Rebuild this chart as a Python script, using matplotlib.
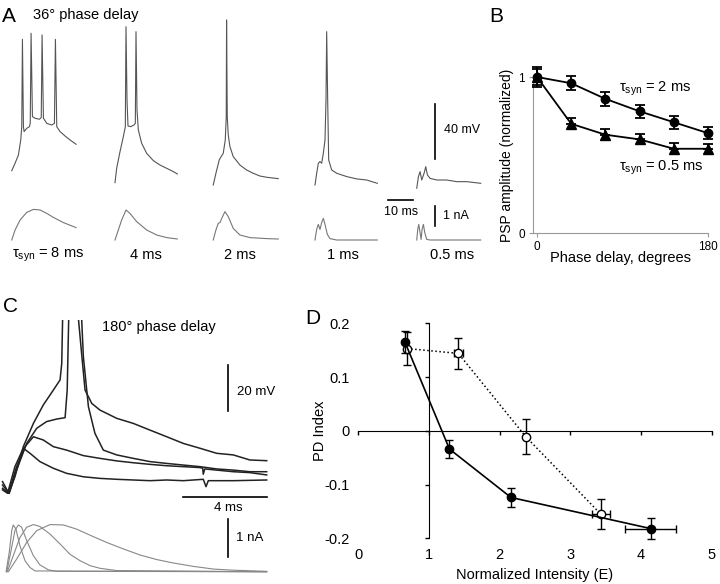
import matplotlib
matplotlib.use("Agg")
import matplotlib.pyplot as plt

plt.rcParams['font.family'] = ['Liberation Sans', 'DejaVu Sans']
plt.rcParams['mathtext.fontset'] = 'custom'
plt.rcParams['mathtext.rm'] = 'Liberation Sans'
plt.rcParams['mathtext.it'] = 'Liberation Sans:italic'

W, H = 720, 584

# ---------------- panel A : 36 deg phase delay, voltage (mV) / current (nA) vs time (ms)
a_labels = ['τ$_{\\rm syn}$ = 8 ms', '4 ms', '2 ms', '1 ms', '0.5 ms']
a_onset = [4.7, 46.0, 85.3, 126.0, 166.7]   # ms, start of each sweep

a_v8_t = [0, 1.33, 2.67, 3.6, 4.0, 4.27, 4.67, 4.93, 6.0, 7.07, 7.4, 7.73, 8.27, 9.33,
          11.07, 11.8, 12.13, 12.67, 14.0, 16.0, 17.07, 17.47, 18.0, 19.33, 21.33, 23.33, 25.73]
a_v8 = [-54.6, -49.2, -43.2, -32.3, -22.6, 40.9, -22.6, -26.2, -23.8, -22.6, -20.0, 45.3, -15.3, -16.5,
        -17.2, -16.0, 44.1, -16.5, -20.2, -21.4, -20.2, 40.9, -22.6, -26.2, -29.4, -32.3, -35.4]
a_v4_t = [0, 0.67, 2.0, 3.33, 4.13, 4.4, 4.8, 5.2, 6.27, 7.6, 8.13, 8.4, 8.8, 9.33, 10.67,
          12.67, 15.33, 18.0, 20.67, 23.33, 24.93]
a_v4 = [-63.3, -52.9, -40.8, -29.9, -22.6, 50.1, -3.2, -22.1, -22.6, -21.4, -20.2, 46.5, -10.5, -25.0, -34.7,
        -42.0, -47.3, -50.5, -52.9, -55.3, -57.0]
a_v2_t = [0, 1.07, 2.4, 3.33, 4.0, 4.8, 5.2, 5.33, 5.6, 6.0, 6.67, 8.0, 10.67, 13.33, 16.0, 18.67, 21.33, 26.0]
a_v2 = [-65.0, -56.5, -46.8, -43.9, -42.0, -32.3, -15.3, 55.0, -15.3, -28.6, -37.1, -44.4, -50.5, -54.1,
        -56.5, -58.5, -59.4, -60.4]
a_v1_t = [0, 0.67, 1.33, 2.0, 2.67, 3.33, 4.0, 4.4, 4.67, 5.07, 5.47, 6.67, 8.67, 12.67, 16.67, 20.67, 24.93]
a_v1 = [-65.0, -56.5, -49.2, -48.0, -49.2, -42.0, -32.3, -3.2, 46.5, -3.2, -46.8, -54.1, -56.5, -58.9,
        -60.6, -61.4, -63.8]
a_v05_t = [0, 0.67, 1.33, 2.0, 2.93, 3.6, 4.27, 5.33, 8.0, 12.0, 16.0, 20.0, 25.6]
a_v05 = [-67.4, -58.9, -55.3, -61.4, -56.5, -51.7, -57.7, -60.2, -61.4, -61.4, -62.6, -62.6, -63.8]

a_i8_t = [0, 1.33, 3.33, 6.0, 8.67, 11.33, 14.0, 16.67, 20.67, 25.73]
a_i8 = [0, 0.5, 1.0, 1.38, 1.53, 1.5, 1.33, 1.13, 0.87, 0.62]
a_i4_t = [0, 1.33, 2.67, 4.4, 6.0, 8.67, 12.67, 16.67, 20.67, 24.93]
a_i4 = [0, 0.5, 1.0, 1.5, 1.33, 0.92, 0.5, 0.25, 0.12, 0.05]
a_i2_t = [0, 1.07, 2.0, 2.67, 3.73, 4.67, 6.0, 8.0, 10.67, 14.67, 21.33, 26.0]
a_i2 = [0, 0.5, 0.83, 0.87, 1.17, 1.42, 1.17, 0.58, 0.25, 0.12, 0.07, 0.05]
a_i1_t = [0, 0.67, 1.33, 2.0, 2.67, 3.33, 4.0, 4.93, 6.0, 8.67, 24.93]
a_i1 = [0, 0.53, 0.78, 0.53, 0.87, 1.08, 0.78, 0.28, 0.07, 0, 0]
a_i05_t = [0, 0.4, 0.8, 1.33, 1.73, 2.13, 2.67, 3.2, 4.0, 5.33, 25.6]
a_i05 = [0, 0.53, 0.78, 0.37, 0.03, 0.53, 0.78, 0.37, 0.03, 0, 0]

# ---------------- panel B : PSP amplitude vs phase delay
b_phase = [0, 36, 72, 108, 144, 180]
b_amp_2ms = [1.0, 0.96, 0.86, 0.78, 0.71, 0.64]
b_err_2ms = [0.064, 0.045, 0.043, 0.043, 0.043, 0.04]
b_amp_05ms = [1.0, 0.70, 0.63, 0.60, 0.54, 0.54]
b_err_05ms_lo = [0.05, 0, 0, 0, 0, 0]
b_err_05ms_hi = [0.05, 0.04, 0.035, 0.035, 0.035, 0.03]

# ---------------- panel C : 180 deg phase delay
c_v1_t = [0.12, 0.42, 0.71, 1.11, 1.59, 2.06, 2.54, 2.86, 2.94, 2.98, 3.33, 3.74, 3.9, 4.05, 4.37,
          4.76, 5.56, 6.35, 7.14, 7.94, 8.73, 9.52, 10.32, 11.11, 11.9, 12.7]
c_v1 = [-65.7, -70.8, -63.6, -50.5, -40.4, -32.4, -25.9, -21.5, -14.3, 4.6, 40, 4.6, -11.4, -25.9, -31.7,
        -34.6, -38.2, -40.4, -43.3, -46.2, -49.1, -51.2, -53.4, -54.1, -56.3, -56.6]
c_v2_t = [0.12, 0.44, 0.79, 1.27, 1.75, 2.22, 2.7, 3.1, 3.2, 3.27, 3.55, 3.89, 3.97, 4.21, 4.52,
          4.92, 5.56, 6.35, 7.14, 7.94, 8.73, 9.52, 10.32, 11.11, 11.9, 12.7]
c_v2 = [-67.2, -70.8, -60.7, -49.1, -42.5, -39.6, -38.5, -37.9, -25.9, 4.6, 40, 4.6, -11.4, -33.1, -44.7,
        -52.0, -54.1, -55.6, -57.0, -57.8, -58.5, -59.2, -60.2, -60.7, -61.4, -61.4]
c_v3_t = [0.12, 0.4, 0.79, 1.19, 1.59, 2.06, 2.54, 3.17, 3.97, 4.76, 5.56, 6.35, 7.14, 7.94, 8.73,
          9.52, 9.65, 9.68, 9.75, 10.32, 11.11, 11.9, 12.7]
c_v3 = [-68.6, -70.8, -59.2, -50.5, -46.2, -47.6, -50.5, -52.0, -54.4, -55.6, -56.7, -57.5, -58.2, -58.8,
        -59.2, -59.6, -59.9, -62.5, -60.2, -60.7, -61.4, -61.8, -62.8]
c_v4_t = [0.12, 0.36, 0.71, 1.11, 1.43, 1.9, 2.54, 3.17, 3.97, 4.76, 5.56, 6.35, 7.14, 7.94, 8.73,
          9.68, 9.81, 9.92, 11.11, 12.7]
c_v4 = [-69.3, -70.8, -59.2, -51.2, -53.4, -57.0, -59.9, -62.1, -63.6, -64.3, -64.7, -65.0, -65.3, -65.0,
        -65.3, -64.7, -67.9, -65.3, -65.3, -65.0]

c_i05_t = [0.29, 0.44, 0.56, 0.63, 0.76, 0.95, 1.19, 1.43, 1.67, 12.7]
c_i05 = [0, 0.51, 1.08, 1.23, 1.12, 0.68, 0.29, 0.11, 0.02, 0]
c_i1_t = [0.32, 0.51, 0.71, 0.87, 1.03, 1.27, 1.59, 1.9, 2.3, 2.7, 12.7]
c_i1 = [0, 0.51, 1.08, 1.23, 1.17, 0.82, 0.42, 0.18, 0.05, 0.01, 0]
c_i2_t = [0.35, 0.63, 0.95, 1.27, 1.59, 1.9, 2.38, 2.86, 3.33, 3.81, 4.29, 4.76, 5.56, 12.7]
c_i2 = [0, 0.42, 0.9, 1.17, 1.24, 1.19, 0.99, 0.73, 0.46, 0.29, 0.16, 0.09, 0.03, 0]
c_i4_t = [0.4, 0.79, 1.27, 1.75, 2.38, 3.02, 3.65, 4.29, 5.08, 5.87, 6.67, 7.46, 8.25, 9.21, 10.16,
          11.11, 12.7]
c_i4 = [0, 0.33, 0.77, 1.08, 1.24, 1.23, 1.12, 0.96, 0.77, 0.6, 0.44, 0.32, 0.23, 0.14, 0.07, 0.04, 0.01]

# ---------------- panel D : PD index vs normalized intensity
d_x_filled = [0.66, 1.29, 2.16, 4.14]
d_y_filled = [0.165, -0.034, -0.124, -0.182]
d_yerr_filled = [0.02, 0.016, 0.018, 0.02]
d_xerr_filled = [0.0, 0.0, 0.0, 0.36]
d_x_open = [0.69, 1.415, 2.37, 3.43]
d_y_open = [0.153, 0.144, -0.011, -0.155]
d_yerr_open = [0.03, 0.029, 0.033, 0.028]
d_xerr_open = [0.0, 0.065, 0.03, 0.125]


def px_axes(fig, x0, y0, x1, y1):
    return fig.add_axes([x0 / W, 1 - y1 / H, (x1 - x0) / W, (y1 - y0) / H])


def px_text(fig, x, y, s, **kw):
    kw.setdefault('va', 'center')
    return fig.text(x / W, 1 - y / H, s, **kw)


fig = plt.figure(figsize=(W / 100, H / 100), dpi=100)

# ---- A
axv = px_axes(fig, 0, 15, 490, 195)
axi = px_axes(fig, 0, 195, 490, 250)
axv.set_xlim(0, 196); axv.set_ylim(-72.3, 58.6)
axi.set_xlim(0, 196); axi.set_ylim(-0.5, 2.25)
a_volt = [(a_v8_t, a_v8), (a_v4_t, a_v4), (a_v2_t, a_v2), (a_v1_t, a_v1), (a_v05_t, a_v05)]
a_curr = [(a_i8_t, a_i8), (a_i4_t, a_i4), (a_i2_t, a_i2), (a_i1_t, a_i1), (a_i05_t, a_i05)]
for t0, (tv, v), (ti, i) in zip(a_onset, a_volt, a_curr):
    axv.plot([t0 + t for t in tv], v, color='#555555', lw=0.8)
    axi.plot([t0 + t for t in ti], i, color='#777777', lw=0.8)
axv.plot([174, 174], [-46, -6], color='k', lw=1.2)
axi.plot([155.2, 165.2], [2.0, 2.0], color='k', lw=1.2, clip_on=False)
axi.plot([174, 174], [0.7, 1.7], color='k', lw=1.2)
for ax in (axv, axi):
    ax.axis('off')

px_text(fig, 2, 16, 'A', fontsize=15)
px_text(fig, 33, 15, '36° phase delay', fontsize=10.5)
px_text(fig, 444, 130, '40 mV', fontsize=9)
px_text(fig, 401, 212, '10 ms', fontsize=9, ha='center')
px_text(fig, 443, 216, '1 nA', fontsize=9)
for xc, lab in zip([48, 146, 240, 343, 452], a_labels):
    px_text(fig, xc, 255, lab, fontsize=10.5, ha='center')

# ---- B
axb = px_axes(fig, 533, 77, 708, 233)
axb.errorbar(b_phase, b_amp_2ms, yerr=b_err_2ms, color='k', marker='o', ms=6, lw=1.3,
             capsize=3.5, elinewidth=1.3, capthick=1.3, clip_on=False, zorder=3)
axb.errorbar(b_phase, b_amp_05ms, yerr=[b_err_05ms_lo, b_err_05ms_hi], color='k', marker='^', ms=7,
             lw=1.3, capsize=3.5, elinewidth=1.3, capthick=1.3, clip_on=False, zorder=3)
axb.set_xlim(-4.2, 180)
axb.set_ylim(0, 1)
axb.set_xticks([0, 180])
axb.set_yticks([0, 1])
axb.set_yticklabels(['0', '1'])
for s in ('top', 'right'):
    axb.spines[s].set_visible(False)
for s in ('left', 'bottom'):
    axb.spines[s].set_color('#999999')
    axb.spines[s].set_linewidth(0.8)
axb.tick_params(length=3, width=0.8, color='#999999', labelsize=8.5, pad=3)
axb.set_ylabel('PSP amplitude (normalized)', fontsize=10)
axb.yaxis.set_label_coords(-0.11, 0.5)
axb.set_xlabel('Phase delay, degrees', fontsize=10.5)
axb.xaxis.set_label_coords(0.5, -0.115)
px_text(fig, 489, 16, 'B', fontsize=15)
px_text(fig, 619, 89, 'τ$_{\\rm syn}$ = 2 ms', fontsize=10.5)
px_text(fig, 619, 168, 'τ$_{\\rm syn}$ = 0.5 ms', fontsize=10.5)

# ---- C
acv = px_axes(fig, 0, 320, 280, 500)
aci = px_axes(fig, 0, 505, 280, 580)
acv.set_xlim(0, 13.333); acv.set_ylim(-73.7, 4.57)
aci.set_xlim(0, 13.333); aci.set_ylim(-0.218, 1.755)
for tv, v in [(c_v1_t, c_v1), (c_v2_t, c_v2), (c_v3_t, c_v3), (c_v4_t, c_v4)]:
    acv.plot(tv, v, color='#222222', lw=1.1)
for ti, i in [(c_i05_t, c_i05), (c_i1_t, c_i1), (c_i2_t, c_i2), (c_i4_t, c_i4)]:
    aci.plot(ti, i, color='#888888', lw=0.8)
acv.plot([10.86, 10.86], [-35, -15], color='k', lw=1.2)
acv.plot([8.71, 12.71], [-72.4, -72.4], color='k', lw=1.2)
aci.plot([10.86, 10.86], [0.39, 1.39], color='k', lw=1.2)
for ax in (acv, aci):
    ax.axis('off')
px_text(fig, 3, 307, 'C', fontsize=15)
px_text(fig, 102, 327, '180° phase delay', fontsize=10.5)
px_text(fig, 237, 392, '20 mV', fontsize=9.5)
px_text(fig, 228, 508, '4 ms', fontsize=9.5, ha='center')
px_text(fig, 236, 538, '1 nA', fontsize=9.5)

# ---- D
axd = px_axes(fig, 358.3, 323.3, 711.7, 538.3)
axd.errorbar(d_x_open, d_y_open, yerr=d_yerr_open, xerr=d_xerr_open, color='k', ls=':', lw=1.1,
             marker='o', ms=6, mfc='white', mec='k', capsize=3, elinewidth=1, capthick=1,
             clip_on=False, zorder=3)
axd.errorbar(d_x_filled, d_y_filled, yerr=d_yerr_filled, xerr=d_xerr_filled, color='k', ls='-',
             lw=1.2, marker='o', ms=6, capsize=3, elinewidth=1, capthick=1, clip_on=False, zorder=4)
axd.set_xlim(0, 5)
axd.set_ylim(-0.2, 0.2)
axd.spines['left'].set_position(('data', 1))
axd.spines['bottom'].set_position(('data', 0))
for s in ('top', 'right'):
    axd.spines[s].set_visible(False)
axd.set_xticks([0, 1, 2, 3, 4, 5])
axd.set_yticks([-0.2, -0.1, 0, 0.1, 0.2])
axd.tick_params(labelbottom=False, labelleft=False, length=3, width=1)
sx = axd.secondary_xaxis('bottom')
sx.spines['bottom'].set_visible(False)
sx.set_xticks([0, 1, 2, 3, 4, 5])
sx.tick_params(length=0, labelsize=10.5, pad=7)
sy = axd.secondary_yaxis('left')
sy.spines['left'].set_visible(False)
sy.set_yticks([-0.2, -0.1, 0, 0.1, 0.2])
sy.set_yticklabels(['-0.2', '-0.1', '0', '0.1', '0.2'])
sy.tick_params(length=0, labelsize=10.5, pad=6)
px_text(fig, 535, 575, 'Normalized Intensity (E)', fontsize=10.5, ha='center')
px_text(fig, 320, 431, 'PD Index', fontsize=10.5, ha='center', rotation=90)
px_text(fig, 305, 318, 'D', fontsize=15)

fig.savefig('out.png', dpi=100)
